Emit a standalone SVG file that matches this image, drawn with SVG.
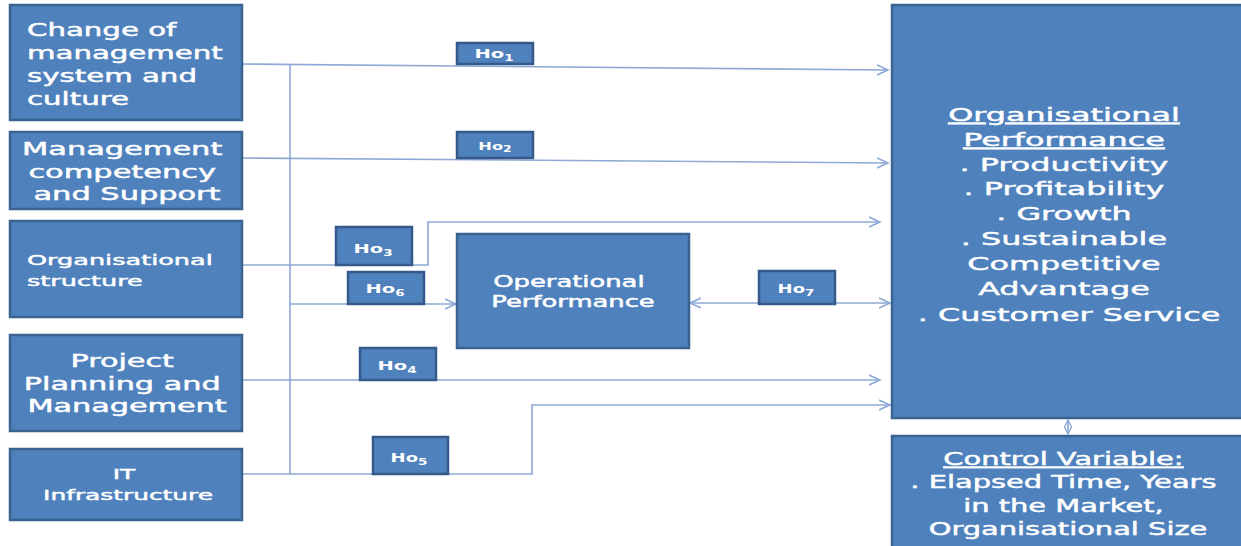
<svg xmlns="http://www.w3.org/2000/svg" width="1241" height="546" viewBox="0 0 1241 546">
<defs>
<style>
.box{fill:#4F81BD;stroke:#3A6391;stroke-width:2.5}
.lbl{fill:#4F81BD;stroke:#34598A;stroke-width:2.5}
.t{fill:#FFFFFF;stroke:#FFFFFF;stroke-width:0.45;font-family:"DejaVu Sans","Verdana",sans-serif}
.b{font-weight:bold;stroke-width:0}
.c{text-anchor:middle}
.ln{fill:none;stroke:#8EA9D5;stroke-width:1.6}
.u{text-decoration:underline}
</style>
<marker id="ah" markerUnits="userSpaceOnUse" markerWidth="14" markerHeight="14" refX="11" refY="6" orient="auto-start-reverse" viewBox="0 0 14 12">
<path d="M0,1 L11,6 L0,11" fill="none" stroke="#8EA9D5" stroke-width="1.6"/>
</marker>
<marker id="ahs" markerUnits="userSpaceOnUse" markerWidth="10" markerHeight="10" refX="7" refY="4" orient="auto-start-reverse" viewBox="0 0 10 8">
<path d="M0,0.5 L7,4 L0,7.5" fill="none" stroke="#8EA9D5" stroke-width="1.4"/>
</marker>
</defs>
<rect width="1241" height="546" fill="#FFFFFF"/>

<g id="connectors">
<line class="ln" x1="290" y1="64" x2="290" y2="474"/>
<path class="ln" d="M242,64 L888,70" marker-end="url(#ah)"/>
<path class="ln" d="M242,158 L888,163" marker-end="url(#ah)"/>
<path class="ln" d="M242,265 L428,265 L428,222 L880,222" marker-end="url(#ah)"/>
<path class="ln" d="M290,304 L456,304" marker-end="url(#ah)"/>
<path class="ln" d="M242,380 L880,380" marker-end="url(#ah)"/>
<path class="ln" d="M242,474 L532,474 L532,405 L890,405" marker-end="url(#ah)"/>
<path class="ln" d="M690,303 L890,303" marker-start="url(#ah)" marker-end="url(#ah)"/>
<path class="ln" d="M1068,420 L1068,434" marker-start="url(#ahs)" marker-end="url(#ahs)"/>
</g>

<g id="node-change">
<rect class="box" x="10" y="5" width="232" height="115"/>
<text class="t" font-size="17" transform="translate(27,0) scale(1.72,1)">
<tspan x="0" y="36">Change of</tspan>
<tspan x="0" y="59">management</tspan>
<tspan x="0" y="82">system and</tspan>
<tspan x="0" y="105">culture</tspan>
</text>
</g>

<g id="node-competency">
<rect class="box" x="10" y="132" width="232" height="77"/>
<text class="t c" font-size="17" transform="translate(127,0) scale(1.79,1)">
<tspan x="0" y="155">Management</tspan>
<tspan x="0" y="178">competency</tspan>
<tspan x="0" y="200">and Support</tspan>
</text>
</g>

<g id="node-structure">
<rect class="box" x="10" y="221" width="232" height="96"/>
<text class="t" font-size="14.5" transform="translate(27,0) scale(1.76,1)">
<tspan x="0" y="265">Organisational</tspan>
<tspan x="0" y="286">structure</tspan>
</text>
</g>

<g id="node-project">
<rect class="box" x="10" y="335" width="232" height="96"/>
<text class="t c" font-size="17" transform="translate(127,0) scale(1.78,1)">
<tspan x="0" y="367">Project</tspan>
<tspan x="0" y="390">Planning and</tspan>
<tspan x="0" y="412">Management</tspan>
</text>
</g>

<g id="node-it">
<rect class="box" x="10" y="449" width="232" height="71"/>
<text class="t c" font-size="14.6" transform="translate(128,0) scale(1.7,1)">
<tspan x="0" y="479">IT</tspan>
<tspan x="0" y="500">Infrastructure</tspan>
</text>
</g>

<g id="node-operational">
<rect class="box" x="457" y="234" width="232" height="114"/>
<text class="t c" font-size="15" transform="translate(573,0) scale(1.72,1)">
<tspan x="0" y="287">Operational</tspan>
<tspan x="0" y="307">Performance</tspan>
</text>
</g>

<g id="node-orgperf">
<rect class="box" x="892" y="5" width="360" height="413"/>
<text class="t c" font-size="18.5" transform="translate(1069,0) scale(1.72,1)">
<tspan class="u" x="0" y="121">Organisational</tspan>
<tspan class="u" x="0" y="146">Performance</tspan>
<tspan x="0" y="171">. Productivity</tspan>
<tspan x="0" y="195">. Profitability</tspan>
<tspan x="0" y="220">. Growth</tspan>
<tspan x="0" y="245">. Sustainable</tspan>
<tspan x="0" y="270">Competitive</tspan>
<tspan x="0" y="295">Advantage</tspan>
<tspan x="0" y="321">. Customer Service</tspan>
</text>
</g>

<g id="node-control">
<rect class="box" x="892" y="436" width="360" height="120"/>
<text class="t c" font-size="17" transform="translate(1068,0) scale(1.7,1)">
<tspan class="u" x="0" y="465">Control Variable:</tspan>
<tspan x="0" y="488">. Elapsed Time, Years</tspan>
<tspan x="0" y="512">in the Market,</tspan>
<tspan x="0" y="535">Organisational Size</tspan>
</text>
</g>

<g id="labels">
<g id="ho1"><rect class="lbl" x="457" y="43" width="76" height="21"/>
<text class="t b c" font-size="13" transform="translate(494,0) scale(1.5,1)"><tspan x="0" y="58">Ho</tspan><tspan font-size="9" dy="3">1</tspan></text></g>
<g id="ho2"><rect class="lbl" x="457" y="132" width="76" height="26"/>
<text class="t b c" font-size="10.5" transform="translate(495,0) scale(1.55,1)"><tspan x="0" y="150">Ho</tspan><tspan font-size="8" dy="2">2</tspan></text></g>
<g id="ho3"><rect class="lbl" x="336" y="227" width="76" height="38"/>
<text class="t b c" font-size="13" transform="translate(373,0) scale(1.5,1)"><tspan x="0" y="253">Ho</tspan><tspan font-size="9" dy="3">3</tspan></text></g>
<g id="ho6"><rect class="lbl" x="348" y="272" width="76" height="32"/>
<text class="t b c" font-size="13" transform="translate(385,0) scale(1.5,1)"><tspan x="0" y="293">Ho</tspan><tspan font-size="9" dy="3">6</tspan></text></g>
<g id="ho4"><rect class="lbl" x="360" y="348" width="76" height="32"/>
<text class="t b c" font-size="13" transform="translate(397,0) scale(1.5,1)"><tspan x="0" y="370">Ho</tspan><tspan font-size="9" dy="3">4</tspan></text></g>
<g id="ho5"><rect class="lbl" x="373" y="437" width="75" height="37"/>
<text class="t b c" font-size="12" transform="translate(409,0) scale(1.5,1)"><tspan x="0" y="462">Ho</tspan><tspan font-size="9" dy="3">5</tspan></text></g>
<g id="ho7"><rect class="lbl" x="759" y="271" width="76" height="33"/>
<text class="t b c" font-size="12" transform="translate(796,0) scale(1.5,1)"><tspan x="0" y="293">Ho</tspan><tspan font-size="9" dy="3">7</tspan></text></g>
</g>
</svg>
